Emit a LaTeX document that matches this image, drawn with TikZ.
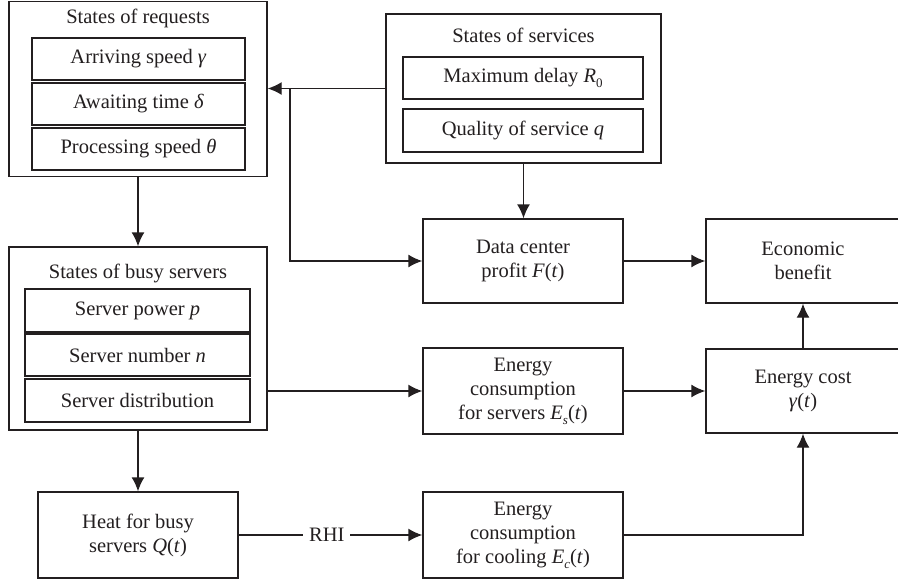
\documentclass[tikz,border=0pt]{standalone}
\usepackage{fontspec}
\setmainfont{Liberation Serif}
\usetikzlibrary{arrows.meta}
\definecolor{ink}{HTML}{231F20}
\newcommand{\mi}[1]{\textit{#1}}
\newcommand{\sbs}[1]{\raisebox{-0.25em}{\fontsize{13}{13}\selectfont #1}}
\tikzset{
  box/.style={draw=ink, line width=1.4pt, inner sep=0pt, align=center, text=ink, font=\fontsize{20.5}{24}\selectfont},
  lbl/.style={inner sep=0pt, text=ink, font=\fontsize{20.5}{24}\selectfont},
  arr/.style={draw=ink, line width=1.4pt, -{Latex[length=14pt,width=13pt]}},
  ln/.style={draw=ink, line width=1.4pt}
}
\begin{document}
\begin{tikzpicture}[x=1pt,y=-1pt]
\clip (0,0) rectangle (898,582);
\fill[white] (0,0) rectangle (898,582);
% States of requests
\node[box, minimum width=258pt, minimum height=175pt] (req) at (138,89) {};
\node[lbl] (reqt) at (138,18) {States of requests};
\node[box, minimum width=213pt, minimum height=42pt] (req1) at (138.5,59) {Arriving speed \mi{γ}};
\node[box, minimum width=213pt, minimum height=42pt] (req2) at (138.5,104) {Awaiting time \mi{δ}};
\node[box, minimum width=213pt, minimum height=42pt] (req3) at (138.5,149) {Processing speed \mi{θ}};
% States of services
\node[box, minimum width=275pt, minimum height=149pt] (srv) at (523.5,88.5) {};
\node[lbl] (srvt) at (523.5,35) {States of services};
\node[box, minimum width=240pt, minimum height=42pt] (srv1) at (523,78) {Maximum delay \mi{R}\sbs{0}};
\node[box, minimum width=240pt, minimum height=43pt] (srv2) at (523,130.5) {Quality of service \mi{q}};
% States of busy servers
\node[box, minimum width=258pt, minimum height=183pt] (busy) at (138,338.5) {};
\node[lbl] (busyt) at (138,273) {States of busy servers};
\node[box, minimum width=225pt, minimum height=43pt] (busy1) at (137.5,310.5) {Server power \mi{p}};
\node[box, minimum width=225pt, minimum height=42pt] (busy2) at (137.5,355) {Server number \mi{n}};
\node[box, minimum width=225pt, minimum height=43pt] (busy3) at (137.5,400.5) {Server distribution};
% Other boxes
\node[box, minimum width=200pt, minimum height=84pt] (dc) at (523,261) {Data center\\profit \mi{F}(\mi{t})};
\node[box, minimum width=200pt, minimum height=86pt] (ecs) at (523,391) {Energy\\consumption\\for servers \mi{E}\sbs{\mi{s}}(\mi{t})};
\node[box, minimum width=194pt, minimum height=84pt] (eb) at (803,261) {Economic\\benefit};
\node[box, minimum width=194pt, minimum height=84pt] (cost) at (803,391) {Energy cost\\\mi{γ}(\mi{t})};
\node[box, minimum width=200pt, minimum height=86pt] (heat) at (138,535) {Heat for busy\\servers \mi{Q}(\mi{t})};
\node[box, minimum width=200pt, minimum height=86pt] (ecc) at (523,535) {Energy\\consumption\\for cooling \mi{E}\sbs{\mi{c}}(\mi{t})};
% Connectors
\coordinate (j) at (290,88.5);
\draw[arr] (srv.west) -- (srv.west -| req.east);
\draw[arr] (j) |- (dc.west);
\draw[arr] (srv.south) -- (srv.south |- dc.north);
\draw[arr] (req.south) -- (busy.north);
\draw[arr] (ecs.west -| busy.east) -- (ecs.west);
\draw[arr] (dc.east) -- (eb.west);
\draw[arr] (ecs.east) -- (cost.west);
\draw[arr] (cost.north) -- (eb.south);
\draw[arr] (busy.south) -- (heat.north);
\draw[arr] (heat.east) -- node[lbl, fill=white, inner xsep=6pt, pos=0.48] (rhi) {RHI} (ecc.west);
\draw[arr] (ecc.east) -| (cost.south);
\end{tikzpicture}
\end{document}
